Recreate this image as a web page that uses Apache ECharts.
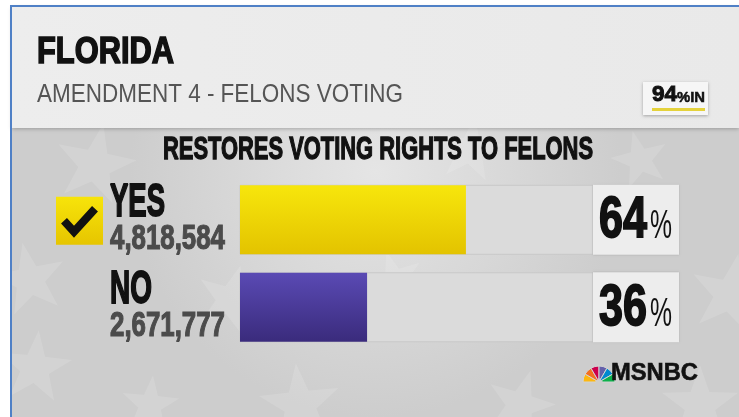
<!DOCTYPE html>
<html><head><meta charset="utf-8">
<script src="https://cdn.jsdelivr.net/npm/echarts@6/dist/echarts.min.js"></script>
<style>html,body{margin:0;padding:0;background:#fff;}#c{width:739px;height:417px;}</style>
</head><body><div id="c"></div>
<script>
// ---- data ----
const categories = ['YES', 'NO'];
const votes = [4818584, 2671777];
const percents = [64, 36];
const winner = 'YES';
const reportingPct = 94;
const stateName = 'FLORIDA';
const subtitle = 'AMENDMENT 4 - FELONS VOTING';
const question = 'RESTORES VOTING RIGHTS TO FELONS';
const brand = 'MSNBC';

const barGradients = [['#f7e60c', '#e3c300'], ['#5a4ab4', '#3a2b7c']];
const FONT = '"Liberation Sans", Arial, sans-serif';
const mctx = document.createElement('canvas').getContext('2d');

function txt(str, left, capTop, capBottom, width, weight, color, thick, z) {
  const fs = (capBottom - capTop) / 0.716;
  const font = weight + ' ' + fs.toFixed(2) + 'px ' + FONT;
  mctx.font = font;
  const w = mctx.measureText(str).width;
  const style = { text: str, font: font, fill: color, align: 'left', verticalAlign: 'middle', textAlign: 'left', textVerticalAlign: 'middle' };
  if (thick) { style.stroke = color; style.lineWidth = thick; }
  return { type: 'text', x: left, y: (capTop + capBottom) / 2, scaleX: width / w, z: z || 30, style: style };
}
function starPts(cx, cy, r, rot) {
  const pts = [];
  for (let i = 0; i < 10; i++) {
    const rr = i % 2 === 0 ? r : r * 0.4;
    const a = -Math.PI / 2 + rot + i * Math.PI / 5;
    pts.push([cx + rr * Math.cos(a), cy + rr * Math.sin(a)]);
  }
  return pts;
}
function lin(c1, c2) {
  return new echarts.graphic.LinearGradient(0, 0, 0, 1, [{ offset: 0, color: c1 }, { offset: 1, color: c2 }]);
}

const chart = echarts.init(document.getElementById('c'), null, { renderer: 'canvas' });
const option = {
  animation: false,
  grid: { left: 240, width: 353, top: 176, height: 175 },
  xAxis: { type: 'value', min: 0, max: 100, show: false },
  yAxis: { type: 'category', data: categories, inverse: true, show: false },
  series: [{
    type: 'bar', barWidth: 69, z: 5,
    showBackground: true,
    backgroundStyle: { color: '#dbdbdb', borderColor: '#c8c8c8', borderWidth: 1 },
    data: percents.map((v, i) => ({ value: v, itemStyle: { color: lin(barGradients[i][0], barGradients[i][1]) } }))
  }]
};
chart.setOption(option);

const yc = categories.map(c => chart.convertToPixel({ yAxisIndex: 0 }, c));
const xEnd = chart.convertToPixel({ xAxisIndex: 0 }, 100);

const g = [];
// background
g.push({ type: 'rect', shape: { x: 12, y: 128, width: 727, height: 289 }, z: 0,
  style: { fill: new echarts.graphic.RadialGradient(0.5, 0.15, 0.85, [{ offset: 0, color: '#e5e5e5' }, { offset: 1, color: '#cdcdcd' }]) } });
// stars
const stars = [[95, 165, 42, 0.2], [30, 280, 38, -0.2], [35, 368, 38, 0.1], [230, 300, 36, 0.3], [300, 405, 42, -0.1],
  [470, 150, 34, 0.15], [640, 160, 30, -0.25], [730, 295, 42, 0.2], [700, 405, 40, 0], [520, 405, 36, 0.3], [150, 405, 30, 0.1], [395, 280, 30, -0.3]];
stars.forEach(s => g.push({ type: 'polygon', shape: { points: starPts(s[0], s[1], s[2], s[3]) }, z: 1, style: { fill: 'rgba(255,255,255,0.13)' } }));
// header
g.push({ type: 'rect', shape: { x: 12, y: 7, width: 727, height: 121 }, z: 2,
  style: { fill: new echarts.graphic.LinearGradient(0, 0, 1, 0, [{ offset: 0, color: '#ededed' }, { offset: 1, color: '#e9e9e9' }]), shadowBlur: 4, shadowColor: 'rgba(0,0,0,0.25)', shadowOffsetY: 1 } });
// frame
g.push({ type: 'rect', shape: { x: 10, y: 5, width: 729, height: 2 }, z: 3, style: { fill: '#4f80c6' } });
g.push({ type: 'rect', shape: { x: 10, y: 5, width: 2, height: 412 }, z: 3, style: { fill: '#4f80c6' } });
// titles
g.push(txt(stateName, 37, 39, 66, 137, 'bold', '#111111', 1.6));
g.push(txt(subtitle, 37, 86, 104, 366, 'normal', '#555555'));
// reporting box
g.push({ type: 'rect', shape: { x: 643, y: 82, width: 65, height: 33 }, z: 20, style: { fill: '#f6f6f6', shadowBlur: 3, shadowColor: 'rgba(0,0,0,0.3)', shadowOffsetY: 1 } });
g.push(txt(String(reportingPct), 652, 87, 103, 25, 'bold', '#111111', 1));
g.push(txt('%IN', 677, 93, 103, 28, 'bold', '#111111', 0.5));
g.push({ type: 'rect', shape: { x: 652, y: 108, width: 53, height: 3 }, z: 25, style: { fill: '#e4d23c' } });
// question
g.push(txt(question, 163, 140, 162, 430, 'bold', '#111111', 1.3));

const nameW = { YES: 55, NO: 42 };
categories.forEach((c, i) => {
  const y = yc[i];
  g.push(txt(c, 110, y - 33, y, nameW[c] || 50, 'bold', '#111111', 1.8));
  const vs = votes[i].toLocaleString('en-US');
  g.push(txt(vs, 110, y + 7, y + 32, 115 * vs.length / 9, 'bold', '#4b4b4b', 1.2));
  // percent box
  g.push({ type: 'rect', shape: { x: xEnd, y: y - 35, width: 86, height: 70 }, z: 20, style: { fill: '#ededed', shadowBlur: 2, shadowColor: 'rgba(0,0,0,0.15)' } });
  g.push(txt(String(percents[i]), xEnd + 6, y - 19, y + 22, 48, 'bold', '#111111', 1.8));
  g.push(txt('%', xEnd + 57, y - 7, y + 22, 22, 'normal', '#111111'));
  if (c === winner) {
    g.push({ type: 'rect', shape: { x: 56, y: y - 23, width: 47, height: 48 }, z: 20, style: { fill: lin('#f7e40a', '#e6c500') } });
    g.push({ type: 'polyline', shape: { points: [[64, y + 1], [74, y + 12], [95, y - 11]] }, z: 25, style: { stroke: '#111111', lineWidth: 8, fill: null, lineCap: 'butt', lineJoin: 'miter' } });
  }
});

// brand logo
const peacock = ['#fcb711', '#f37021', '#cc004c', '#6460aa', '#0089d0', '#0db14b'];
peacock.forEach((col, i) => {
  g.push({ type: 'sector', z: 25, shape: { cx: 599, cy: 382, r: 16, r0: 3, startAngle: Math.PI + i * Math.PI / 6, endAngle: Math.PI + (i + 1) * Math.PI / 6 },
    style: { fill: col, stroke: '#d4d4d4', lineWidth: 1 } });
});
g.push(txt(brand, 611, 365, 382, 87, 'bold', '#111111', 0.6));

chart.setOption({ graphic: g });
</script></body></html>
